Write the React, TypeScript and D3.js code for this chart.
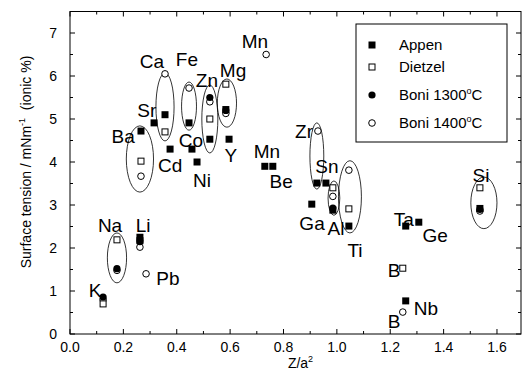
import React from 'react'
import * as d3 from 'd3'

// values: [Z/a², surface tension]
const appen: [number, number][] = [
  [0.356, 5.1], [0.315, 4.91], [0.266, 4.72], [0.375, 4.3], [0.457, 4.3],
  [0.476, 4.0], [0.446, 4.91], [0.524, 4.53], [0.584, 5.22], [0.596, 4.53],
  [0.73, 3.9], [0.76, 3.9], [0.925, 3.51], [0.959, 3.51], [0.906, 3.02],
  [0.985, 2.88], [1.045, 2.51], [1.258, 2.51], [1.307, 2.6], [1.258, 0.77],
  [1.536, 2.92], [0.262, 2.25], [0.262, 2.17],
]
const dietzel: [number, number][] = [
  [0.356, 4.7], [0.266, 4.02], [0.524, 5.0], [0.584, 5.81], [0.985, 3.4],
  [1.045, 2.91], [1.247, 1.53], [1.536, 3.4], [0.176, 2.19], [0.124, 0.7],
]
const boni1300: [number, number][] = [
  [0.524, 5.5], [0.584, 5.2], [0.985, 2.93], [1.536, 2.9], [0.176, 1.52],
  [0.262, 2.15], [0.124, 0.86],
]
const boni1400: [number, number][] = [
  [0.356, 6.05], [0.266, 3.67], [0.446, 5.72], [0.524, 5.4], [0.584, 5.13],
  [0.735, 6.5], [0.929, 4.72], [0.985, 3.2], [1.045, 3.81], [1.247, 0.51],
  [1.536, 2.86], [0.176, 1.48], [0.262, 2.02], [0.285, 1.4], [0.124, 0.8],
]

// groups circled on the chart: [centre x, centre y, half width, half height]
const groups: [number, number, number, number][] = [
  [0.262, 4.07, 0.051, 0.77], [0.356, 5.28, 0.034, 0.79], [0.446, 5.3, 0.028, 0.56],
  [0.524, 5.0, 0.03, 0.79], [0.588, 5.37, 0.036, 0.56], [0.925, 4.14, 0.026, 0.77],
  [0.989, 3.16, 0.022, 0.4], [1.049, 3.19, 0.043, 0.84], [1.551, 3.05, 0.049, 0.6],
  [0.176, 1.77, 0.036, 0.58],
]

const elements = ['Mn', 'Ca', 'Fe', 'Zn', 'Mg', 'Sr', 'Ba', 'Co', 'Cd', 'Ni', 'Y', 'Mn', 'Be', 'Zr',
  'Sn', 'Ga', 'Al', 'Ti', 'Ta', 'Ge', 'B', 'Nb', 'B', 'Si', 'Na', 'Li', 'Pb', 'K']
const elementAt: [number, number][] = [
  [0.693, 6.65], [0.307, 6.19], [0.438, 6.23], [0.513, 5.74], [0.611, 5.98], [0.288, 5.05],
  [0.199, 4.44], [0.453, 4.35], [0.375, 3.77], [0.495, 3.42], [0.603, 4.0], [0.738, 4.09],
  [0.791, 3.4], [0.877, 4.56], [0.963, 3.74], [0.907, 2.42], [0.997, 2.3], [1.068, 1.79],
  [1.251, 2.51], [1.368, 2.14], [1.214, 1.33], [1.334, 0.44], [1.214, 0.14], [1.54, 3.53],
  [0.15, 2.37], [0.274, 2.37], [0.367, 1.14], [0.094, 0.86],
]

const xTicks = [0, 0.2, 0.4, 0.6, 0.8, 1.0, 1.2, 1.4, 1.6]
const yTicks = [0, 1, 2, 3, 4, 5, 6, 7]

const W = 523, H = 380
const left = 70, right = 521, top = 11.5, bottom = 334
const font = 'Liberation Sans, Arial, sans-serif'

export default function App() {
  const x = d3.scaleLinear().domain([0, 1.69]).range([left, right])
  const y = d3.scaleLinear().domain([0, 7.5]).range([bottom, top])

  const xMinor = d3.range(0.1, 1.69, 0.2)
  const yMinor = d3.range(0.5, 7.5, 1)

  const fSq = (p: [number, number], i: number) =>
    <rect key={i} x={x(p[0]) - 3.5} y={y(p[1]) - 3.5} width={7} height={7} fill="#000" />
  const oSq = (p: [number, number], i: number) =>
    <rect key={i} x={x(p[0]) - 3} y={y(p[1]) - 3} width={6} height={6} fill="#fff" stroke="#000" strokeWidth={1} />
  const fCi = (p: [number, number], i: number) =>
    <circle key={i} cx={x(p[0])} cy={y(p[1])} r={3.6} fill="#000" />
  const oCi = (p: [number, number], i: number) =>
    <circle key={i} cx={x(p[0])} cy={y(p[1])} r={3.3} fill="#fff" stroke="#000" strokeWidth={1} />

  const legend = [
    { label: 'Appen', yy: 45, mark: (cx: number, cy: number) => <rect x={cx - 3.5} y={cy - 3.5} width={7} height={7} fill="#000" /> },
    { label: 'Dietzel', yy: 67, mark: (cx: number, cy: number) => <rect x={cx - 3} y={cy - 3} width={6} height={6} fill="#fff" stroke="#000" /> },
    { label: 'Boni 1300', yy: 95, mark: (cx: number, cy: number) => <circle cx={cx} cy={cy} r={3.6} fill="#000" /> },
    { label: 'Boni 1400', yy: 123, mark: (cx: number, cy: number) => <circle cx={cx} cy={cy} r={3.3} fill="#fff" stroke="#000" /> },
  ]

  return (
    <svg width={W} height={H} style={{ position: 'absolute', left: 0, top: 0 }} fontFamily={font}>
      <rect width={W} height={H} fill="#fff" />

      {/* ticks on all four sides, pointing in */}
      {xTicks.map(t => (
        <g key={'xt' + t}>
          <line x1={x(t)} x2={x(t)} y1={bottom} y2={bottom - 5} stroke="#000" />
          <line x1={x(t)} x2={x(t)} y1={top} y2={top + 5} stroke="#000" />
          <text x={x(t)} y={352} fontSize={14} textAnchor="middle">{d3.format('.1f')(t)}</text>
        </g>
      ))}
      {xMinor.map(t => (
        <g key={'xm' + t}>
          <line x1={x(t)} x2={x(t)} y1={bottom} y2={bottom - 3} stroke="#000" />
          <line x1={x(t)} x2={x(t)} y1={top} y2={top + 3} stroke="#000" />
        </g>
      ))}
      {yTicks.map(t => (
        <g key={'yt' + t}>
          <line x1={left} x2={left + 5} y1={y(t)} y2={y(t)} stroke="#000" />
          <line x1={right} x2={right - 5} y1={y(t)} y2={y(t)} stroke="#000" />
          <text x={57} y={y(t) + 5} fontSize={14} textAnchor="end">{t}</text>
        </g>
      ))}
      {yMinor.map(t => (
        <g key={'ym' + t}>
          <line x1={left} x2={left + 3} y1={y(t)} y2={y(t)} stroke="#000" />
          <line x1={right} x2={right - 3} y1={y(t)} y2={y(t)} stroke="#000" />
        </g>
      ))}
      <rect x={left} y={top} width={right - left} height={bottom - top} fill="none" stroke="#000" />

      <text x={(left + right) / 2 + 5} y={368} fontSize={14} textAnchor="middle">
        Z/a<tspan dy={-6} fontSize={9}>2</tspan>
      </text>
      <text transform={`translate(31,${162}) rotate(-90)`} fontSize={14} textAnchor="middle">
        Surface tension / mNm<tspan dy={-6} fontSize={9}>-1</tspan><tspan dy={6}>{'\u00a0\u00a0'}(ionic %)</tspan>
      </text>

      {groups.map((g, i) => (
        <ellipse key={'e' + i} cx={x(g[0])} cy={y(g[1])} rx={x(g[2]) - x(0)} ry={y(0) - y(g[3])}
          fill="none" stroke="#000" strokeWidth={0.8} />
      ))}

      {boni1400.map(oCi)}
      {dietzel.map(oSq)}
      {appen.map(fSq)}
      {boni1300.map(fCi)}

      {elements.map((e, i) => (
        <text key={'l' + i} x={x(elementAt[i][0])} y={y(elementAt[i][1])} fontSize={19} textAnchor="middle">{e}</text>
      ))}

      <rect x={356} y={24} width={151} height={118} fill="#fff" stroke="#000" />
      {legend.map(l => (
        <g key={l.label}>
          {l.mark(372, l.yy)}
          <text x={399} y={l.yy + 5} fontSize={15}>
            {l.label}
            {l.label.startsWith('Boni') && <><tspan dy={-6} fontSize={9}>o</tspan><tspan dy={6}>C</tspan></>}
          </text>
        </g>
      ))}
    </svg>
  )
}
